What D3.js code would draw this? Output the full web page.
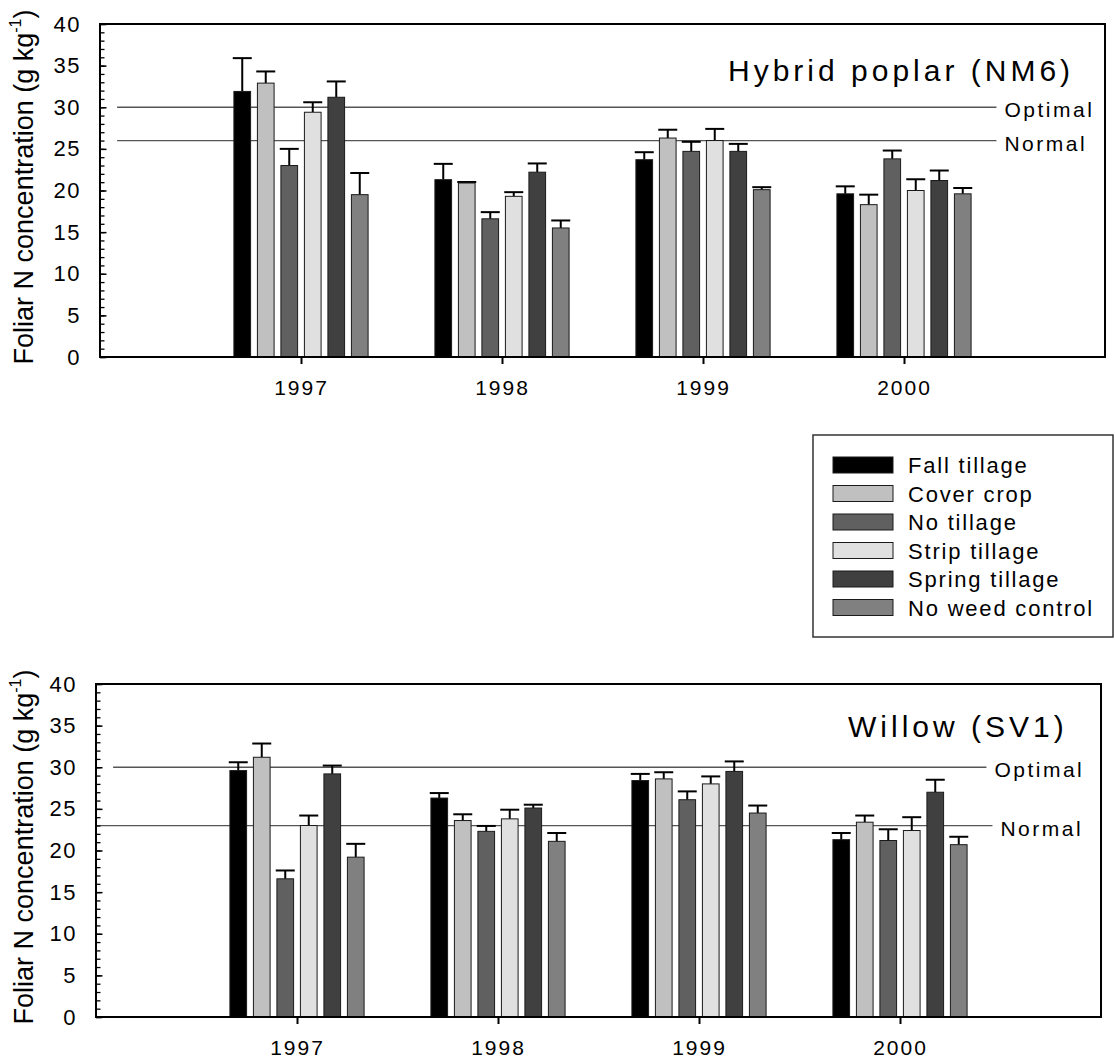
<!DOCTYPE html>
<html>
<head>
<meta charset="utf-8">
<script src="https://cdn.jsdelivr.net/npm/d3@7"></script>
<style>
  html, body { margin: 0; padding: 0; background: #fff; }
  svg { display: block; font-family: "Liberation Sans", Arial, sans-serif; }
</style>
</head>
<body>
<svg id="chart" width="1115" height="1063"></svg>
<script>
// ---------- data ----------
const years = ["1997", "1998", "1999", "2000"];
const treatments = ["Fall tillage", "Cover crop", "No tillage", "Strip tillage", "Spring tillage", "No weed control"];

// means per year, in treatment order
const poplarMeans = [
  [31.9, 32.9, 23.0, 29.4, 31.2, 19.5],
  [21.3, 20.9, 16.6, 19.3, 22.2, 15.5],
  [23.7, 26.3, 24.7, 26.0, 24.7, 20.1],
  [19.6, 18.3, 23.8, 20.0, 21.2, 19.6]
];
const poplarErrors = [
  [4.0, 1.4, 2.0, 1.2, 1.9, 2.6],
  [1.9, 0.12, 0.8, 0.5, 1.05, 0.9],
  [0.9, 1.0, 1.15, 1.4, 0.9, 0.3],
  [0.9, 1.2, 1.0, 1.35, 1.2, 0.7]
];
const willowMeans = [
  [29.6, 31.2, 16.6, 23.0, 29.2, 19.2],
  [26.3, 23.6, 22.3, 23.8, 25.1, 21.1],
  [28.4, 28.6, 26.1, 28.0, 29.5, 24.5],
  [21.3, 23.4, 21.2, 22.4, 27.0, 20.7]
];
const willowErrors = [
  [1.0, 1.65, 1.0, 1.2, 1.0, 1.6],
  [0.6, 0.75, 0.65, 1.1, 0.4, 1.0],
  [0.8, 0.8, 1.0, 0.9, 1.2, 0.9],
  [0.8, 0.8, 1.35, 1.6, 1.5, 0.95]
];
const poplarThresholds = { optimal: 30, normal: 26 };
const willowThresholds = { optimal: 30, normal: 23 };
const yTicksMajor = [0, 5, 10, 15, 20, 25, 30, 35, 40];

// ---------- styles ----------
const fills = ["#000000", "#c0c0c0", "#606060", "#e0e0e0", "#404040", "#808080"];
const FONT = 21;

const svg = d3.select("#chart");

const panels = [
  { title: "Hybrid poplar (NM6)", means: poplarMeans, errs: poplarErrors, th: poplarThresholds,
    top: 24, dx: 0, optStart: 0.085, optEnd: 4.46, normStart: 0.085, normEnd: 4.46, titleX: 728, titleY: 81 },
  { title: "Willow (SV1)", means: willowMeans, errs: willowErrors, th: willowThresholds,
    top: 684, dx: -4, optStart: 0.085, optEnd: 4.43, normStart: 0, normEnd: 4.46, titleX: 848, titleY: 737 }
];

panels.forEach(p => {
  const x = d3.scaleLinear().domain([0, 5]).range([100 + p.dx, 1105 + p.dx]);
  const y = d3.scaleLinear().domain([0, 40]).range([p.top + 333, p.top]);
  const band = d3.scaleBand().domain(treatments).range([-70.5, 70.5])
    .paddingInner(0.29).paddingOuter(0.145);

  const g = svg.append("g");

  // reference lines
  const refs = [
    { v: p.th.optimal, label: "Optimal", s: p.optStart, e: p.optEnd },
    { v: p.th.normal, label: "Normal", s: p.normStart, e: p.normEnd }
  ];
  g.selectAll(".ref").data(refs).join("line")
    .attr("x1", d => x(d.s)).attr("x2", d => x(d.e))
    .attr("y1", d => y(d.v)).attr("y2", d => y(d.v))
    .attr("stroke", "#555").attr("stroke-width", 1.3);
  g.selectAll(".reflab").data(refs).join("text")
    .attr("x", d => x(d.e) + 8).attr("y", d => y(d.v) + 10)
    .attr("font-size", FONT).attr("letter-spacing", 2.5).attr("fill", "#000")
    .text(d => d.label);

  // bars
  const flat = [];
  p.means.forEach((row, yi) => row.forEach((m, ti) => flat.push({ yi, ti, m, e: p.errs[yi][ti] })));

  const cx = d => x(d.yi + 1) + band(treatments[d.ti]) + band.bandwidth() / 2;

  g.selectAll(".err").data(flat).join("line")
    .attr("x1", cx).attr("x2", cx)
    .attr("y1", d => y(d.m)).attr("y2", d => y(d.m + d.e))
    .attr("stroke", "#000").attr("stroke-width", 2);
  g.selectAll(".cap").data(flat).join("line")
    .attr("x1", d => cx(d) - 9.5).attr("x2", d => cx(d) + 9.5)
    .attr("y1", d => y(d.m + d.e)).attr("y2", d => y(d.m + d.e))
    .attr("stroke", "#000").attr("stroke-width", 2);

  g.selectAll(".bar").data(flat).join("rect")
    .attr("x", d => x(d.yi + 1) + band(treatments[d.ti]))
    .attr("width", band.bandwidth())
    .attr("y", d => y(d.m))
    .attr("height", d => y(0) - y(d.m))
    .attr("fill", d => fills[d.ti])
    .attr("stroke", "#1a1a1a").attr("stroke-width", 1);

  // y axis: minor and major ticks inside
  const minorAxis = d3.axisLeft(y).tickValues(d3.range(0, 41, 1)).tickSize(-4.5).tickFormat("");
  const ga = g.append("g").attr("transform", `translate(${x(0)},0)`).call(minorAxis);
  ga.select(".domain").remove();
  ga.selectAll("line").attr("stroke", "#000").attr("stroke-width", 1.3);

  const majorAxis = d3.axisLeft(y).tickValues(yTicksMajor).tickSize(-6.5).tickPadding(19);
  const gm = g.append("g").attr("transform", `translate(${x(0)},0)`).call(majorAxis);
  gm.select(".domain").remove();
  gm.selectAll("line").attr("stroke", "#000").attr("stroke-width", 1.5);
  gm.selectAll("text").attr("font-size", 22).attr("letter-spacing", 1.5)
    .attr("fill", "#000").attr("font-family", "Liberation Sans, Arial, sans-serif");

  // x axis
  const xAxis = d3.axisBottom(x).tickValues([1, 2, 3, 4]).tickFormat(i => years[i - 1])
    .tickSize(7).tickPadding(16);
  const gx = g.append("g").attr("transform", `translate(0,${y(0)})`).call(xAxis);
  gx.select(".domain").remove();
  gx.selectAll("line").attr("stroke", "#000").attr("stroke-width", 2);
  gx.selectAll("text").attr("font-size", FONT).attr("letter-spacing", 2)
    .attr("fill", "#000").attr("font-family", "Liberation Sans, Arial, sans-serif");

  // frame
  g.append("rect")
    .attr("x", x(0)).attr("y", y(40))
    .attr("width", x(5) - x(0)).attr("height", y(0) - y(40))
    .attr("fill", "none").attr("stroke", "#000").attr("stroke-width", 2);

  // panel title
  g.append("text").attr("x", p.titleX).attr("y", p.titleY)
    .attr("font-size", 30).attr("letter-spacing", 4).attr("fill", "#000")
    .text(p.title);

  // y axis title
  const yt = g.append("text")
    .attr("transform", `translate(33,${p.top + 163}) rotate(-90)`)
    .attr("text-anchor", "middle").attr("font-size", 27).attr("fill", "#000");
  yt.append("tspan").text("Foliar N concentration (g kg");
  yt.append("tspan").attr("font-size", 16).attr("dy", -12).text("-1");
  yt.append("tspan").attr("dy", 12).text(")");
});

// legend
const lg = svg.append("g");
lg.append("rect").attr("x", 813).attr("y", 435).attr("width", 300).attr("height", 202)
  .attr("fill", "#fff").attr("stroke", "#333").attr("stroke-width", 1.5);
const ly = d3.scalePoint().domain(treatments).range([465, 607.5]);
lg.selectAll(".sw").data(treatments).join("rect")
  .attr("x", 833).attr("y", d => ly(d) - 8).attr("width", 60).attr("height", 16)
  .attr("fill", (d, i) => fills[i]).attr("stroke", "#1a1a1a").attr("stroke-width", 1);
lg.selectAll(".lt").data(treatments).join("text")
  .attr("x", 908).attr("y", d => ly(d) + 8)
  .attr("font-size", 22).attr("letter-spacing", 1.8).attr("fill", "#000")
  .text(d => d);
</script>
</body>
</html>
